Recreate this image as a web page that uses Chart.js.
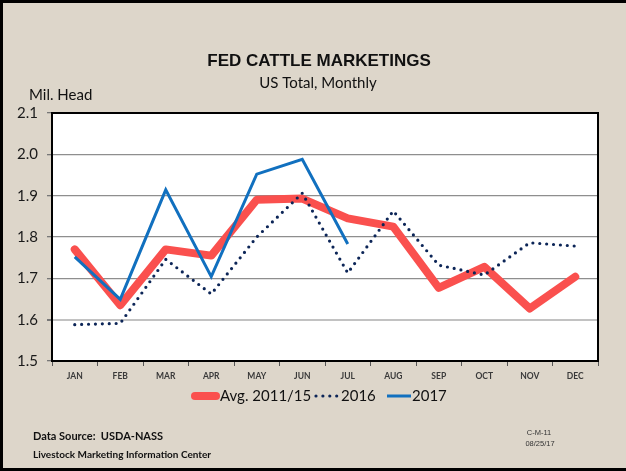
<!DOCTYPE html>
<html>
<head>
<meta charset="utf-8">
<script src="https://cdn.jsdelivr.net/npm/chart.js@4/dist/chart.umd.min.js"></script>
<style>
  html, body { margin: 0; padding: 0; background: #ddd6ca; }
  #wrap { width: 626px; height: 471px; position: relative; }
</style>
</head>
<body>
<div id="wrap"><canvas id="c" width="626" height="471"></canvas></div>
<script>
// Monthly fed cattle marketings, million head
const months = ['JAN','FEB','MAR','APR','MAY','JUN','JUL','AUG','SEP','OCT','NOV','DEC'];
const avg2011_15 = [1.77, 1.635, 1.77, 1.755, 1.89, 1.893, 1.845, 1.825, 1.677, 1.728, 1.627, 1.704];
const y2016 = [1.588, 1.591, 1.746, 1.662, 1.80, 1.906, 1.713, 1.863, 1.732, 1.708, 1.786, 1.778];
const y2017 = [1.752, 1.649, 1.914, 1.704, 1.952, 1.988, 1.783, null, null, null, null, null];
const yTicks = [1.5, 1.6, 1.7, 1.8, 1.9, 2.0, 2.1];

const seriesNames = ['Avg. 2011/15', '2016', '2017'];

const BG = '#ddd6ca';
const CAL = 'Lato, "Open Sans", sans-serif';

// Page frame, white plot panel and all surrounding text
const decor = {
  id: 'decor',
  beforeDraw(chart) {
    const { ctx, chartArea: a } = chart;
    ctx.save();
    ctx.fillStyle = BG;
    ctx.fillRect(0, 0, chart.width, chart.height);
    ctx.fillStyle = '#ffffff';
    ctx.fillRect(a.left, a.top, a.right - a.left, a.bottom - a.top);
    ctx.restore();
  },
  afterDraw(chart) {
    const { ctx, chartArea: a } = chart;
    ctx.save();
    // plot panel outline
    ctx.strokeStyle = '#000';
    ctx.lineWidth = 2;
    ctx.strokeRect(a.left, a.top, a.right - a.left, a.bottom - a.top);

    // outer frame (left, top, bottom)
    ctx.fillStyle = '#000';
    ctx.fillRect(0, 0, 3, chart.height);
    ctx.fillRect(0, 0, chart.width, 3);
    ctx.fillRect(0, chart.height - 3, chart.width, 3);

    // titles
    ctx.fillStyle = '#111';
    ctx.textAlign = 'center';
    ctx.textBaseline = 'middle';
    ctx.font = 'bold 17px "Liberation Sans", Arial, sans-serif';
    ctx.fillText('FED CATTLE MARKETINGS', 319, 61);
    ctx.font = '15px ' + CAL;
    ctx.fillText('US Total, Monthly', 318, 83);

    ctx.textAlign = 'left';
    ctx.font = '15px ' + CAL;
    ctx.fillText('Mil. Head', 29, 95);

    // legend built from the dataset styles
    const items = chart.data.datasets;
    const xs = [[192, 219], [316, 340], [387, 411]];
    const ly = 396;
    ctx.font = '15px ' + CAL;
    items.forEach((ds, i) => {
      ctx.save();
      ctx.strokeStyle = ds.borderColor;
      ctx.lineWidth = ds.borderWidth;
      ctx.lineCap = ds.borderCapStyle || 'butt';
      ctx.setLineDash(ds.borderDash || []);
      ctx.beginPath();
      ctx.moveTo(xs[i][0] + (i === 0 ? 3 : 0), ly);
      ctx.lineTo(xs[i][1] - (i === 0 ? 3 : 0), ly);
      ctx.stroke();
      ctx.restore();
      ctx.fillStyle = '#111';
      ctx.fillText(ds.label, xs[i][1] + 1, ly);
    });

    // source notes
    ctx.font = 'bold 11px ' + CAL;
    ctx.fillText('Data Source:  USDA-NASS', 33, 436);
    ctx.font = 'bold 10px ' + CAL;
    ctx.fillText('Livestock Marketing Information Center', 33, 455);
    ctx.textAlign = 'center';
    ctx.font = '7.5px "Liberation Sans", Arial, sans-serif';
    ctx.fillStyle = '#333';
    ctx.fillText('C-M-11', 539, 433);
    ctx.fillText('08/25/17', 540, 444);
    ctx.restore();
  }
};

const near = (v, t) => Math.abs(v - t) < 1e-6;

new Chart(document.getElementById('c'), {
  type: 'line',
  data: {
    labels: months,
    datasets: [
      {
        label: seriesNames[0],
        data: avg2011_15,
        borderColor: '#fa504e',
        borderWidth: 8,
        borderCapStyle: 'round',
        borderJoinStyle: 'round',
        pointRadius: 0,
        tension: 0,
        order: 3
      },
      {
        label: seriesNames[1],
        data: y2016,
        borderColor: '#0c2557',
        borderWidth: 3.2,
        borderDash: [0, 6.9],
        borderCapStyle: 'round',
        borderJoinStyle: 'round',
        pointRadius: 0,
        tension: 0,
        order: 2
      },
      {
        label: seriesNames[2],
        data: y2017,
        borderColor: '#1170bf',
        borderWidth: 3,
        borderJoinStyle: 'miter',
        pointRadius: 0,
        tension: 0,
        spanGaps: false,
        order: 1
      }
    ]
  },
  options: {
    responsive: false,
    animation: false,
    events: [],
    layout: { padding: { top: 113, right: 28, left: 0, bottom: 0 } },
    plugins: { legend: { display: false }, tooltip: { enabled: false }, title: { display: false } },
    scales: {
      x: {
        offset: true,
        grid: { display: true, drawOnChartArea: false, drawTicks: true, tickLength: 5, color: '#555', offset: true },
        border: { display: true, color: '#000', width: 2 },
        ticks: { font: { family: CAL, size: 8.5, weight: 'bold' }, color: '#3a3a3a', padding: 5, maxRotation: 0, autoSkip: false },
        afterFit(s) { s.height = 110; }
      },
      y: {
        min: yTicks[0],
        max: yTicks[yTicks.length - 1],
        afterBuildTicks(s) { s.ticks = yTicks.map(v => ({ value: v })); },
        grid: {
          color: c => near(c.tick.value, 1.6) ? '#c2c2c2' : '#8e8e8e',
          lineWidth: c => near(c.tick.value, 1.6) ? 2 : 1.3,
          tickColor: '#777',
          tickLength: 5,
          drawTicks: true
        },
        border: { display: true, color: '#000', width: 2 },
        ticks: { font: { family: CAL, size: 15 }, color: '#1a1a1a', padding: 9, callback: v => Number(v).toFixed(1) },
        afterFit(s) { s.width = 52; }
      }
    }
  },
  plugins: [decor]
});
</script>
</body>
</html>
